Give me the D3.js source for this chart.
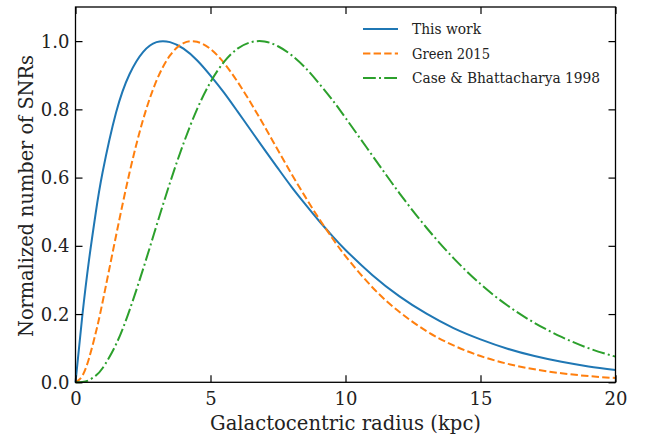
<!DOCTYPE html>
<html>
<head>
<meta charset="utf-8">
<script src="https://cdn.jsdelivr.net/npm/d3@7"></script>
<style>
  html, body { margin: 0; padding: 0; background: #fff; }
</style>
</head>
<body>
<div class="chart"></div>
<script>
// galactocentric radius (kpc) sample points
const radius = [0, 0.25, 0.5, 0.75, 1, 1.5, 2, 2.5, 3, 3.5, 4, 4.5, 5, 5.5, 6, 6.5, 7, 7.5, 8, 8.5, 9, 9.5,
  10, 11, 12, 13, 14, 15, 16, 17, 18, 19, 20];

const thisWork = [0, 0.193, 0.358, 0.497, 0.614, 0.790, 0.903, 0.968, 0.997, 0.997, 0.978, 0.944, 0.899, 0.849,
  0.794, 0.738, 0.682, 0.627, 0.573, 0.523, 0.475, 0.430,
  0.388, 0.314, 0.252, 0.201, 0.159, 0.126, 0.0985, 0.077, 0.060, 0.0466, 0.0361];

const green2015 = [0, 0.0186, 0.070, 0.145, 0.234, 0.429, 0.614, 0.769, 0.884, 0.958, 0.994, 0.998, 0.977, 0.936,
  0.881, 0.818, 0.750, 0.680, 0.611, 0.545, 0.482, 0.424,
  0.370, 0.278, 0.206, 0.150, 0.108, 0.0769, 0.0542, 0.038, 0.0264, 0.0182, 0.0125];

const caseB1998 = [0, 0.0009, 0.0064, 0.0194, 0.0411, 0.111, 0.211, 0.331, 0.459, 0.585, 0.700, 0.800, 0.880, 0.939,
  0.978, 0.997, 0.999, 0.985, 0.959, 0.923, 0.878, 0.829,
  0.775, 0.664, 0.554, 0.453, 0.364, 0.288, 0.225, 0.174, 0.133, 0.100, 0.0752];

const seriesNames = ['This work', 'Green 2015', 'Case & Bhattacharya 1998'];
const seriesColors = ['#1f77b4', '#ff7f0e', '#2ca02c'];
const seriesDash = [null, '7.4,3.2', '12.8,3.2,2,3.2'];
const legendWidths = [69, 78, 188];

const xTicks = [0, 5, 10, 15, 20];
const yTicks = [0, 0.2, 0.4, 0.6, 0.8, 1.0];

const fontFam = "'DejaVu Serif', 'Liberation Serif', serif";

const width = 645;
const height = 436;
const margin = {top: 7, right: 29.5, bottom: 53.7, left: 75.5};
const innerW = width - margin.left - margin.right;
const innerH = height - margin.top - margin.bottom;

const svg = d3.select('.chart')
    .append('svg')
    .attr('width', width)
    .attr('height', height)
    .style('font-family', fontFam);

const g = svg.append('g')
    .attr('transform', `translate(${margin.left},${margin.top})`);

const x = d3.scaleLinear().domain([0, 20]).range([0, innerW]);
const y = d3.scaleLinear().domain([0, 1.1]).range([innerH, 0]);

// curves
const series = [thisWork, green2015, caseB1998];
const line = d3.line()
    .x(d => x(d[0]))
    .y(d => y(d[1]))
    .curve(d3.curveNatural);

series.forEach((vals, i) => {
  g.append('path')
      .datum(radius.map((r, j) => [r, vals[j]]))
      .attr('fill', 'none')
      .attr('stroke', seriesColors[i])
      .attr('stroke-width', 2)
      .attr('stroke-dasharray', seriesDash[i])
      .attr('d', line);
});

// axes, ticks pointing inward on all four sides
const tickLen = 7;
const bottomAxis = g.append('g')
    .attr('transform', `translate(0,${innerH})`)
    .call(d3.axisBottom(x).tickValues(xTicks).tickFormat(d3.format('d')).tickSize(-tickLen).tickPadding(10));
const topAxis = g.append('g')
    .call(d3.axisTop(x).tickValues(xTicks).tickFormat('').tickSize(-tickLen));
const leftAxis = g.append('g')
    .call(d3.axisLeft(y).tickValues(yTicks).tickFormat(d3.format('.1f')).tickSize(-tickLen).tickPadding(6));
const rightAxis = g.append('g')
    .attr('transform', `translate(${innerW},0)`)
    .call(d3.axisRight(y).tickValues(yTicks).tickFormat('').tickSize(-tickLen));

[bottomAxis, topAxis, leftAxis, rightAxis].forEach(ax => {
  ax.attr('font-family', fontFam);
  ax.select('.domain').remove();
  ax.selectAll('line').attr('stroke', '#000').attr('stroke-width', 1.2);
  ax.selectAll('text')
      .style('font-family', fontFam)
      .style('font-size', '18px')
      .attr('fill', '#222');
});
bottomAxis.selectAll('text').attr('dy', '0.71em');
leftAxis.selectAll('text').attr('dy', '0.34em');

g.append('rect')
    .attr('width', innerW)
    .attr('height', innerH)
    .attr('fill', 'none')
    .attr('stroke', '#000')
    .attr('stroke-width', 1.3);

// axis labels
svg.append('text')
    .attr('x', margin.left + innerW / 2)
    .attr('y', 430)
    .attr('text-anchor', 'middle')
    .attr('textLength', 271)
    .attr('lengthAdjust', 'spacingAndGlyphs')
    .style('font-family', fontFam)
    .style('font-size', '20px')
    .attr('fill', '#222')
    .text('Galactocentric radius (kpc)');

svg.append('text')
    .attr('transform', `translate(33,196) rotate(-90)`)
    .attr('text-anchor', 'middle')
    .attr('textLength', 282)
    .attr('lengthAdjust', 'spacingAndGlyphs')
    .style('font-family', fontFam)
    .style('font-size', '20px')
    .attr('fill', '#222')
    .text('Normalized number of SNRs');

// legend
const legend = svg.append('g')
    .attr('transform', 'translate(363,29)');

seriesNames.forEach((name, i) => {
  const row = legend.append('g').attr('transform', `translate(0,${i * 24.5})`);
  row.append('line')
      .attr('x1', 0)
      .attr('x2', 35)
      .attr('stroke', seriesColors[i])
      .attr('stroke-width', 2)
      .attr('stroke-dasharray', seriesDash[i]);
  row.append('text')
      .attr('x', 49)
      .attr('dy', '0.35em')
      .attr('textLength', legendWidths[i])
      .attr('lengthAdjust', 'spacingAndGlyphs')
      .style('font-family', fontFam)
      .style('font-size', '14.5px')
      .attr('fill', '#222')
      .text(name);
});
</script>
</body>
</html>
